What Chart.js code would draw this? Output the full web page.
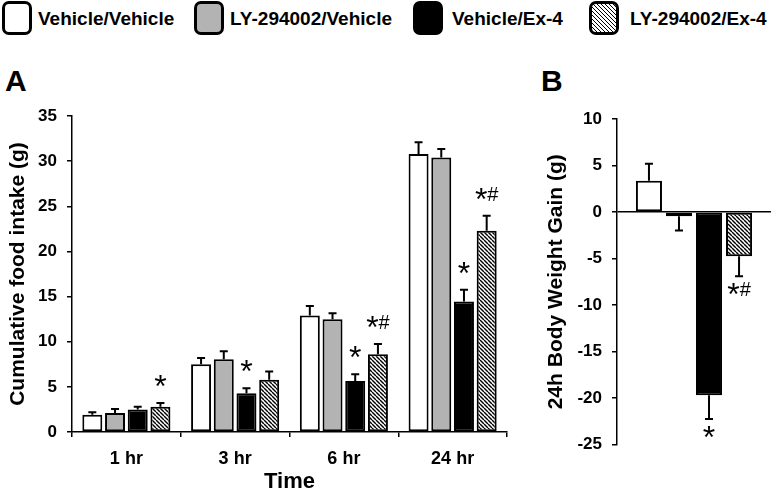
<!DOCTYPE html>
<html>
<head>
<meta charset="utf-8">
<script src="https://cdn.jsdelivr.net/npm/chart.js"></script>
<style>
  body { margin: 0; background: #fff; width: 771px; height: 493px; position: relative; overflow: hidden;
         font-family: "Liberation Sans", Arial, sans-serif; color: #000; }
  .box { position: absolute; top: 1px; width: 30px; height: 34px; box-sizing: border-box;
         border: 3px solid #000; border-radius: 7px; }
  .ltxt { position: absolute; top: 9px; font-weight: bold; font-size: 19px; line-height: 19px; white-space: nowrap; }
  .panel { position: absolute; font-weight: bold; font-size: 30px; line-height: 30px; }
  canvas { position: absolute; }
</style>
</head>
<body>
<div id="legend"></div>
<div class="panel" style="left:5px;top:66px">A</div>
<div class="panel" style="left:541px;top:66px">B</div>
<canvas id="chartA" width="525" height="433" style="left:0;top:60px"></canvas>
<canvas id="chartB" width="251" height="433" style="left:520px;top:60px"></canvas>
<script>
// ---- data ----
const seriesNames = ["Vehicle/Vehicle", "LY-294002/Vehicle", "Vehicle/Ex-4", "LY-294002/Ex-4"];
const timeLabels = ["1 hr", "3 hr", "6 hr", "24 hr"];

// panel A: cumulative food intake (g)
const vehVeh = [1.9, 7.5, 12.9, 30.8];
const lyVeh = [2.1, 8.05, 12.5, 30.4];
const vehEx = [2.5, 4.3, 5.65, 14.45];
const lyEx = [2.8, 5.8, 8.6, 22.3];
const vehVehErr = [0.3, 0.7, 1.05, 1.3];
const lyVehErr = [0.45, 0.9, 0.65, 0.95];
const vehExErr = [0.3, 0.55, 0.75, 1.3];
const lyExErr = [0.4, 0.9, 1.15, 1.65];
const vehVehSig = ["", "", "", ""];
const lyVehSig = ["", "", "", ""];
const vehExSig = ["", "*", "*", "*"];
const lyExSig = ["*", "", "*#", "*#"];
const intakeTicks = [0, 5, 10, 15, 20, 25, 30, 35];

// panel B: 24h body weight gain (g)
const gainValues = [3.35, -0.45, -19.7, -4.75];
const gainErr = [1.85, 1.55, 2.55, 2.15];
const gainSig = ["", "", "*", "*#"];
const gainTicks = [-25, -20, -15, -10, -5, 0, 5, 10];

const FONT = "'Liberation Sans', Arial, sans-serif";
Chart.defaults.font.family = FONT;
Chart.defaults.color = "#000";

function hatch(ctx) {
  const s = 4;
  const c = document.createElement("canvas");
  c.width = c.height = s;
  const g = c.getContext("2d");
  g.fillStyle = "#fff";
  g.fillRect(0, 0, s, s);
  g.strokeStyle = "#000";
  g.lineWidth = 1.4;
  for (let k = -1; k <= 1; k++) {
    g.beginPath();
    g.moveTo(k * s, 0);
    g.lineTo(k * s + s, s);
    g.stroke();
  }
  return ctx.createPattern(c, "repeat");
}

// legend (html)
const legendPos = [[2, 38], [194, 230], [413, 452], [589, 630]];
const legendFill = ["#fff", "#b3b3b3", "#000",
  "repeating-linear-gradient(45deg, #000 0 1.1px, #fff 1.1px 2.83px)"];
const legend = document.getElementById("legend");
seriesNames.forEach((name, i) => {
  const b = document.createElement("div");
  b.className = "box";
  b.style.left = legendPos[i][0] + "px";
  b.style.background = legendFill[i];
  legend.appendChild(b);
  const t = document.createElement("div");
  t.className = "ltxt";
  t.style.left = legendPos[i][1] + "px";
  t.textContent = name;
  legend.appendChild(t);
});

// draws "*" / "#" marks, each glyph centred vertically on cy
function drawMark(ctx, text, x, cy) {
  ctx.textAlign = "left";
  ctx.textBaseline = "alphabetic";
  const parts = [...text].map(ch => {
    const font = (ch === "*" ? "32px " : "20px ") + FONT;
    ctx.font = font;
    const m = ctx.measureText(ch);
    const mid = (m.actualBoundingBoxAscent - m.actualBoundingBoxDescent) / 2;
    return { ch, font, w: m.width, mid };
  });
  let cx = x - parts.reduce((a, p) => a + p.w, 0) / 2;
  ctx.fillStyle = "#000";
  parts.forEach(p => { ctx.font = p.font; ctx.fillText(p.ch, cx, cy + p.mid); cx += p.w; });
}

// error bars + significance marks
const errorBars = {
  id: "errorBars",
  afterDatasetsDraw(chart) {
    const ctx = chart.ctx;
    const y = chart.scales.y;
    ctx.save();
    ctx.strokeStyle = "#000";
    ctx.lineWidth = 2;
    chart.data.datasets.forEach((ds, i) => {
      chart.getDatasetMeta(i).data.forEach((bar, j) => {
        const v = ds.data[j];
        const end = v >= 0 ? v + ds.errors[j] : v - ds.errors[j];
        const y0 = y.getPixelForValue(v);
        const y1 = y.getPixelForValue(end);
        ctx.beginPath();
        ctx.moveTo(bar.x, y0);
        ctx.lineTo(bar.x, y1);
        ctx.moveTo(bar.x - 4, y1);
        ctx.lineTo(bar.x + 4, y1);
        ctx.stroke();
        if (ds.sig[j]) drawMark(ctx, ds.sig[j], bar.x, v >= 0 ? y1 - 22 : y1 + 13);
      });
    });
    ctx.restore();
  }
};

function axisY(min, max, ticks, title, width, titlePad) {
  return {
    min, max,
    afterBuildTicks: s => { s.ticks = ticks.map(v => ({ value: v })); },
    ticks: { font: { size: 17, weight: "bold" }, color: "#000", padding: 10 },
    grid: { drawOnChartArea: false, tickLength: 5, color: "#000", lineWidth: 1.5 },
    border: { color: "#000", width: 1.5 },
    title: { display: true, text: title, color: "#000", font: { size: 21, weight: "bold" },
             padding: { top: titlePad, bottom: 0 } },
    afterFit: s => { s.width = width; }
  };
}

// ---- panel A ----
const ctxA = document.getElementById("chartA").getContext("2d");
const fillsA = ["#fff", "#b3b3b3", "#000", hatch(ctxA)];
const valsA = [vehVeh, lyVeh, vehEx, lyEx];
const errsA = [vehVehErr, lyVehErr, vehExErr, lyExErr];
const sigsA = [vehVehSig, lyVehSig, vehExSig, lyExSig];

new Chart(ctxA, {
  type: "bar",
  data: {
    labels: timeLabels,
    datasets: seriesNames.map((name, i) => ({
      label: name, data: valsA[i], errors: errsA[i], sig: sigsA[i],
      backgroundColor: fillsA[i], borderColor: "#000", borderWidth: 2, borderSkipped: false,
      categoryPercentage: 0.835, barPercentage: 0.88
    }))
  },
  options: {
    responsive: false,
    animation: false,
    layout: { padding: { top: 56, right: 18, left: 0, bottom: 0 } },
    plugins: { legend: { display: false }, tooltip: { enabled: false } },
    scales: {
      x: {
        grid: { drawOnChartArea: false, tickLength: 5, color: "#000", lineWidth: 1.5 },
        border: { color: "#000", width: 1.5 },
        ticks: { font: { size: 18, weight: "bold" }, color: "#000", padding: 11 },
        title: { display: true, text: "Time", color: "#000",
                 font: { size: 22, weight: "bold", lineHeight: 1 }, padding: { top: 0, bottom: 0 } },
        afterFit: s => { s.height = 61; }
      },
      y: axisY(0, 35, intakeTicks, "Cumulative food intake (g)", 72, 6)
    }
  },
  plugins: [errorBars]
});

// ---- panel B ----
const ctxB = document.getElementById("chartB").getContext("2d");
const fillsB = ["#fff", "#b3b3b3", "#000", hatch(ctxB)];
const yB = axisY(-25, 10, gainTicks, "24h Body Weight Gain (g)", 97, 24);
yB.grid = {
  drawOnChartArea: true, tickLength: 5, lineWidth: 1.5, tickColor: "#000",
  color: c => (c.tick && c.tick.value === 0 ? "#000" : "rgba(0,0,0,0)")
};

new Chart(ctxB, {
  type: "bar",
  data: {
    labels: [""],
    datasets: seriesNames.map((name, i) => ({
      label: name, data: [gainValues[i]], errors: [gainErr[i]], sig: [gainSig[i]],
      backgroundColor: fillsB[i], borderColor: "#000", borderWidth: 2, borderSkipped: false,
      categoryPercentage: 0.78, barPercentage: 0.867
    }))
  },
  options: {
    responsive: false,
    animation: false,
    layout: { padding: { top: 59, right: 0, left: 0, bottom: 48.5 } },
    plugins: { legend: { display: false }, tooltip: { enabled: false } },
    scales: {
      x: { display: false },
      y: yB
    }
  },
  plugins: [errorBars]
});
</script>
</body>
</html>
